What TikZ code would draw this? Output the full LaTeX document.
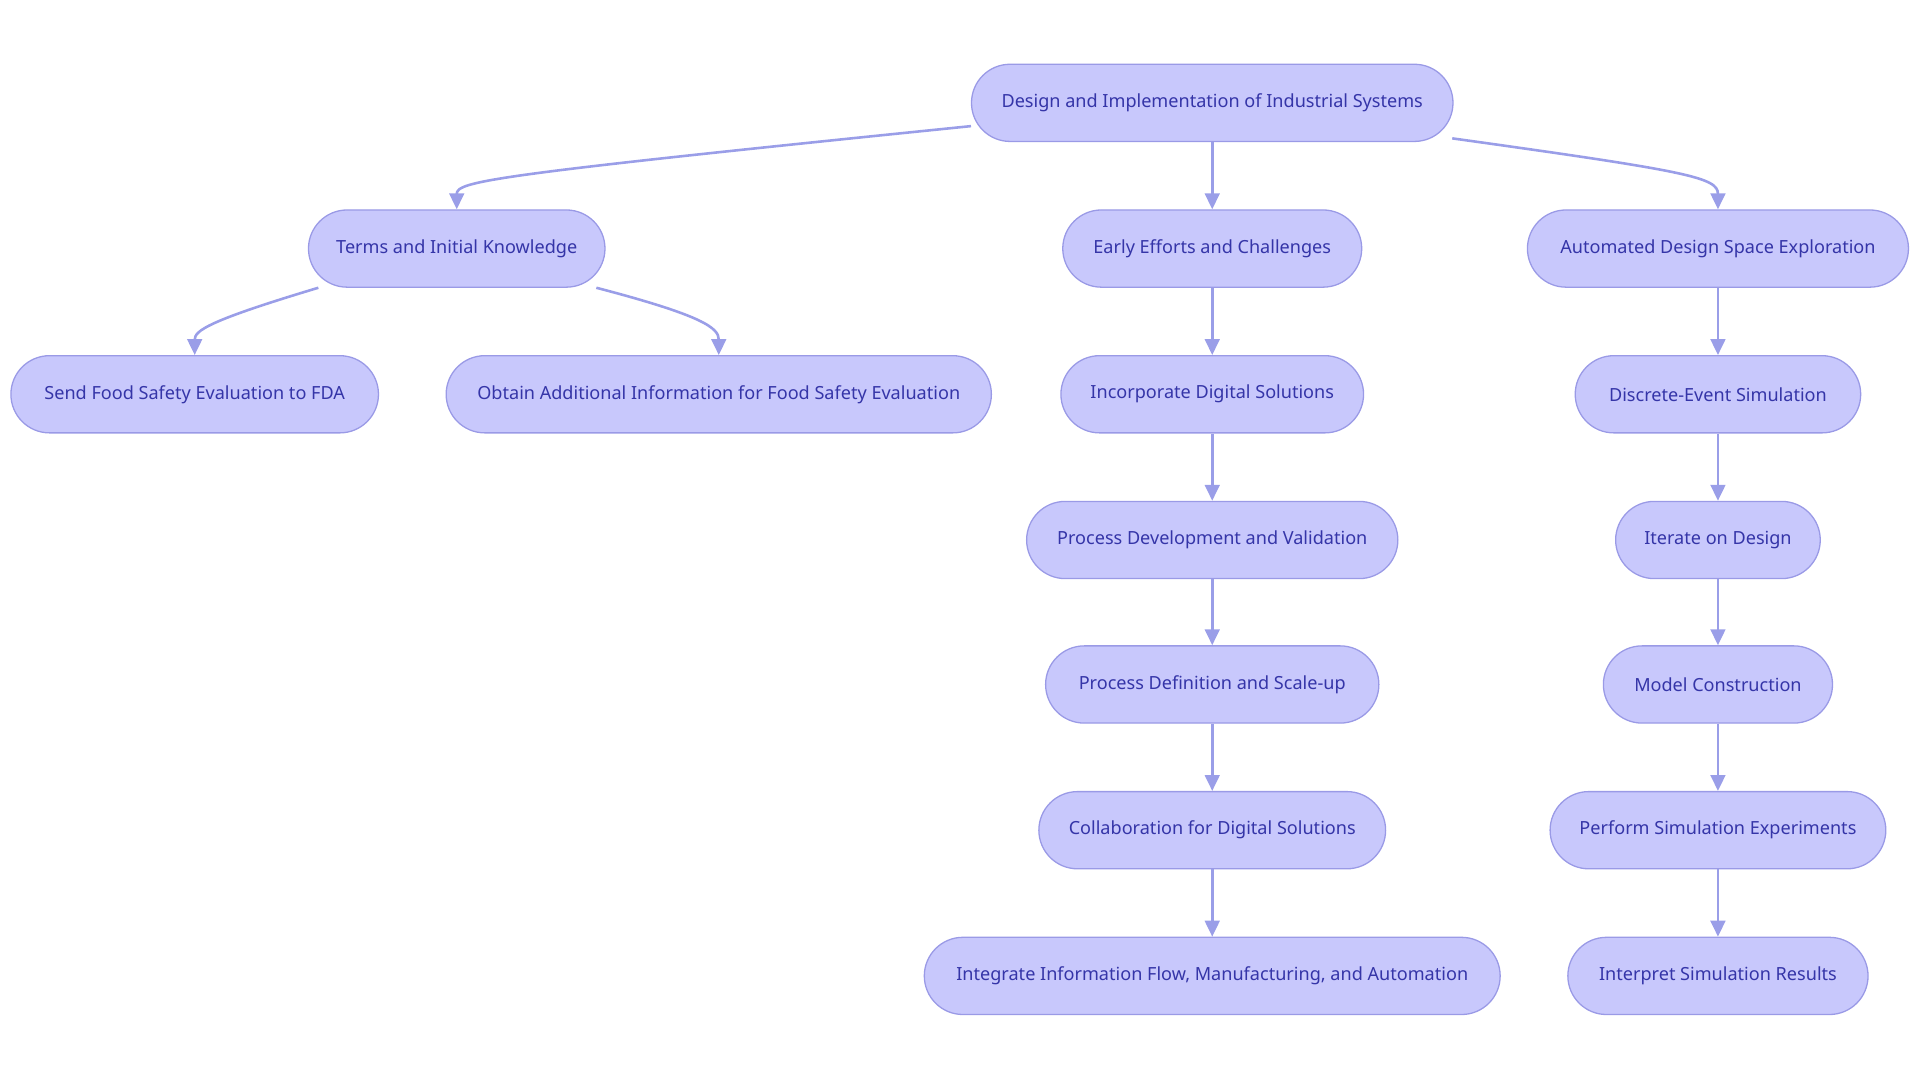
\documentclass[tikz,border=0pt]{standalone}
\usepackage{fontspec}
\setmainfont{Noto Sans}
\usetikzlibrary{arrows.meta}
\definecolor{nf}{HTML}{C8C8FC}
\definecolor{nd}{HTML}{9A9AE6}
\definecolor{tx}{HTML}{3535A8}
\definecolor{ed}{HTML}{9A9EE8}
\begin{document}
\begin{tikzpicture}[x=0.01cm,y=-0.01cm,
  box/.style={draw=nd,fill=nf,rounded corners=0.315cm,minimum height=0.63cm,text=tx,font=\fontsize{4.2}{5}\selectfont,inner sep=0pt,line width=0.3pt},
  e/.style={draw=ed,line width=0.6pt,-{Triangle[length=0.13cm,width=0.12cm]}}]
\useasboundingbox (0,0) rectangle (1568,882);
\node[box,minimum width=3.93cm] (top) at (990,84) {Design and Implementation of Industrial Systems};
\node[box,minimum width=2.42cm] (terms) at (373,203) {Terms and Initial Knowledge};
\node[box,minimum width=2.44cm] (early) at (990,203) {Early Efforts and Challenges};
\node[box,minimum width=3.11cm] (auto) at (1403,203) {Automated Design Space Exploration};
\node[box,minimum width=3.00cm] (send) at (159,322) {Send Food Safety Evaluation to FDA};
\node[box,minimum width=4.45cm] (obtain) at (587,322) {Obtain Additional Information for Food Safety Evaluation};
\node[box,minimum width=2.47cm] (incorp) at (990,322) {Incorporate Digital Solutions};
\node[box,minimum width=2.33cm] (disc) at (1403,322) {Discrete-Event Simulation};
\node[box,minimum width=3.03cm] (pdev) at (990,441) {Process Development and Validation};
\node[box,minimum width=1.67cm] (iter) at (1403,441) {Iterate on Design};
\node[box,minimum width=2.72cm] (pdef) at (990,559) {Process Definition and Scale-up};
\node[box,minimum width=1.87cm] (model) at (1403,559) {Model Construction};
\node[box,minimum width=2.83cm] (collab) at (990,678) {Collaboration for Digital Solutions};
\node[box,minimum width=2.74cm] (perf) at (1403,678) {Perform Simulation Experiments};
\node[box,minimum width=4.70cm] (integ) at (990,797) {Integrate Information Flow, Manufacturing, and Automation};
\node[box,minimum width=2.45cm] (interp) at (1403,797) {Interpret Simulation Results};
\coordinate (a1) at (793,103);
\coordinate (a2) at (1186,113);
\coordinate (b1) at (260,235);
\coordinate (b2) at (487,235);
\draw[e] (a1) .. controls (400,143) and (373,148) .. (terms.north);
\draw[e] (a2) .. controls (1380,140) and (1403,145) .. (auto.north);
\draw[e] (b1) .. controls (170,262) and (159,270) .. (send.north);
\draw[e] (b2) .. controls (575,258) and (587,268) .. (obtain.north);
\draw[e] (top) -- (early);
\draw[e] (early) -- (incorp);
\draw[e] (incorp) -- (pdev);
\draw[e] (pdev) -- (pdef);
\draw[e] (pdef) -- (collab);
\draw[e] (collab) -- (integ);
\draw[e] (auto) -- (disc);
\draw[e] (disc) -- (iter);
\draw[e] (iter) -- (model);
\draw[e] (model) -- (perf);
\draw[e] (perf) -- (interp);
\end{tikzpicture}
\end{document}
